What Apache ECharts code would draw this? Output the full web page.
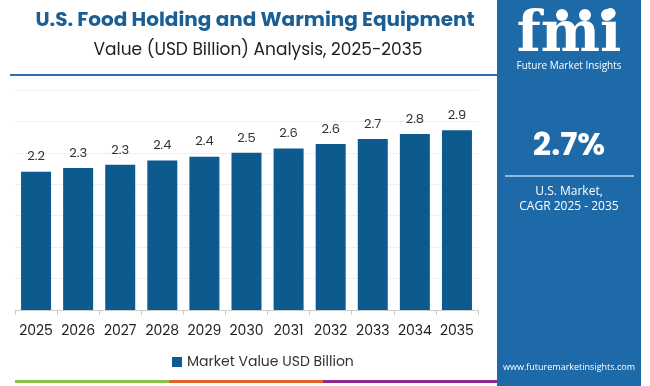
<!DOCTYPE html>
<html><head><meta charset="utf-8">
<script src="https://cdn.jsdelivr.net/npm/echarts@6/dist/echarts.min.js"></script>
<style>html,body{margin:0;padding:0;background:#fff}#c{width:650px;height:386px}</style>
</head><body><div id="c"></div>
<script>
var categories = ['2025','2026','2027','2028','2029','2030','2031','2032','2033','2034','2035'];
var values = [2.20, 2.26, 2.31, 2.38, 2.44, 2.50, 2.57, 2.64, 2.72, 2.80, 2.86];
var seriesName = 'Market Value USD Billion';
var titleText = 'U.S. Food Holding and Warming Equipment';
var subtitleText = 'Value (USD Billion) Analysis, 2025-2035';
var cagrText = '2.7%';
var cagrLabel = ['U.S. Market,', 'CAGR 2025 - 2035'];

var chart = echarts.init(document.getElementById('c'));
var FONT = 'Poppins, "Open Sans", Lato, sans-serif';
chart.setOption({
  animation: false,
  textStyle: {fontFamily: FONT},
  title: [
    {text: titleText, left: 250, top: 6, textAlign: 'center',
     textStyle: {fontSize: 20, fontWeight: 'bold', color: '#1a5e93', fontFamily: FONT}},
    {text: subtitleText, left: 253, top: 37, textAlign: 'center',
     textStyle: {fontSize: 17, fontWeight: 'normal', color: '#222', fontFamily: FONT}}
  ],
  legend: {
    data: [seriesName], left: 167, top: 350,
    itemWidth: 10, itemHeight: 10, icon: 'rect', itemGap: 6,
    textStyle: {fontSize: 14, color: '#333', fontFamily: FONT}
  },
  grid: {left: 15, right: 172, top: 90, bottom: 76, containLabel: false},
  xAxis: {
    type: 'category', data: categories,
    axisLine: {lineStyle: {color: '#ccc'}},
    axisTick: {show: true, alignWithLabel: false, length: 5, lineStyle: {color: '#ccc'}},
    axisLabel: {interval: 0, fontSize: 14, color: '#222', margin: 14, fontFamily: FONT}
  },
  yAxis: {
    type: 'value', min: 0, max: 3.5, interval: 0.5,
    axisLabel: {show: false}, axisLine: {show: false}, axisTick: {show: false},
    splitLine: {lineStyle: {color: '#f0f0f0'}}
  },
  series: [{
    name: seriesName, type: 'bar', data: values, barWidth: 30,
    itemStyle: {color: '#0d5a8e'},
    label: {show: true, position: 'top', distance: 8, fontSize: 13, color: '#333',
      fontFamily: FONT, formatter: function(p){return p.value.toFixed(1);}}
  }],
  graphic: [
    {type:'rect', shape:{x:10,y:74,width:487,height:2}, style:{fill:'#2a6fae'}, z:10},
    {type:'rect', shape:{x:497,y:0,width:144,height:386}, style:{fill:'#1e6aa9'}, z:1},
    {type:'text', x:569, y:8, style:{text:'fmi', fill:'#fff', font:'bold 56px "DejaVu Serif", serif', textAlign:'center'}, z:5},
    {type:'circle', shape:{cx:562,cy:15,r:6}, style:{fill:'#fff'}, z:6},
    {type:'circle', shape:{cx:585,cy:15,r:6}, style:{fill:'#fff'}, z:6},
    {type:'circle', shape:{cx:607,cy:15,r:6}, style:{fill:'#fff'}, z:6},
    {type:'text', x:569, y:61, style:{text:'Future Market Insights', fill:'#fff', font:'10px "Open Sans", sans-serif', textAlign:'center'}, z:5},
    {type:'text', x:569, y:131, style:{text:cagrText, fill:'#fff', font:'bold 32px Poppins, "Open Sans", sans-serif', textAlign:'center'}, z:5},
    {type:'rect', shape:{x:505,y:175,width:129,height:2}, style:{fill:'#8fbbe0'}, z:5},
    {type:'text', x:569, y:186, style:{text:cagrLabel[0], fill:'#fff', font:'12px "Open Sans", sans-serif', textAlign:'center'}, z:5},
    {type:'text', x:569, y:201, style:{text:cagrLabel[1], fill:'#fff', font:'12px "Open Sans", sans-serif', textAlign:'center'}, z:5},
    {type:'text', x:569, y:363, style:{text:'www.futuremarketinsights.com', fill:'#fff', font:'9px "Open Sans", sans-serif', textAlign:'center'}, z:5},
    {type:'rect', shape:{x:15,y:380,width:154,height:3}, style:{fill:'#8bc34a'}, z:5},
    {type:'rect', shape:{x:169,y:380,width:154,height:3}, style:{fill:'#e4602c'}, z:5},
    {type:'rect', shape:{x:323,y:380,width:174,height:3}, style:{fill:'#8e2a8e'}, z:5}
  ]
});
</script></body></html>
